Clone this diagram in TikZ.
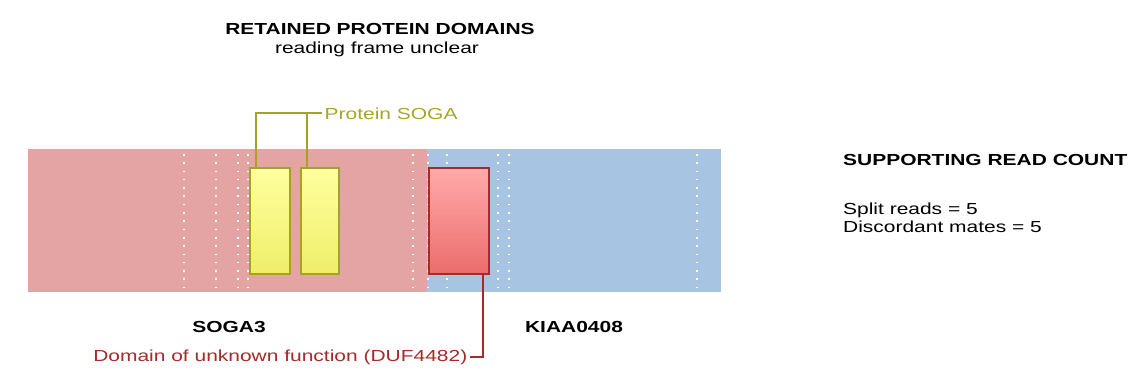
\documentclass[tikz,border=0pt]{standalone}
\usepackage{fontspec}
\setmainfont{Liberation Sans}[FakeStretch=1.31]
\usetikzlibrary{positioning,calc}

\definecolor{sogabar}{HTML}{E4A4A4}
\definecolor{kiaabar}{HTML}{A8C4E3}
\definecolor{olivetext}{HTML}{A6A62B}
\definecolor{oliveline}{HTML}{A3A325}
\definecolor{dufred}{HTML}{A52A2A}
\definecolor{yeltop}{HTML}{FFFF9E}
\definecolor{yelbot}{HTML}{EEEE6A}
\definecolor{redtop}{HTML}{FFAAAA}
\definecolor{redbot}{HTML}{EC6C6C}

\begin{document}
\begin{tikzpicture}[x=1pt, y=-1pt,
  txt/.style={font=\fontsize{16}{18}\selectfont, inner sep=0pt},
  hdr/.style={txt, font=\fontsize{16}{19}\selectfont\bfseries},
  genebar/.style={anchor=north west, inner sep=0pt, outer sep=0pt, minimum height=143pt},
  exonline/.style={white, line width=1.6pt, dash pattern=on 1.6pt off 6.7pt},
  yellowdom/.style={anchor=north west, inner sep=0pt, draw=oliveline, line width=2pt, minimum height=106pt,
    top color=yeltop, middle color=yeltop!85!yelbot, bottom color=yelbot},
  reddom/.style={anchor=north west, inner sep=0pt, draw=dufred, line width=2pt, minimum height=106pt,
    top color=redtop, middle color=redtop!80!redbot, bottom color=redbot},
  sogaline/.style={draw=oliveline, line width=2pt},
  dufline/.style={draw=dufred, line width=2pt}
]
\useasboundingbox (0,0) rectangle (1144,382);

% gene bars
\node[genebar, fill=sogabar, minimum width=399pt] (soga3) at (28,149) {};
\node[genebar, fill=kiaabar, minimum width=294pt] (kiaa0408) at (427,149) {};

% exon boundaries
\foreach \x in {184,216,238,248,413,428,447,498,509,697}
  \draw[exonline] (\x,154) -- (\x,291);

% retained domains
\node[yellowdom, minimum width=40pt] (soga1) at (249,167) {};
\node[yellowdom, minimum width=38pt] (soga2) at (300,167) {};
\node[reddom, minimum width=60pt] (duf) at (428,167) {};

% labels
\node[hdr, anchor=base] (title) at (380,35) {RETAINED PROTEIN DOMAINS};
\node[txt, anchor=base] (subtitle) at (377,54) {reading frame unclear};
\node[txt, text=olivetext, anchor=west, inner xsep=2.5pt] (sogalabel) at (322,113.5) {Protein SOGA};
\node[txt, text=dufred, anchor=east, inner xsep=2.5pt] (duflabel) at (470,357) {Domain of unknown function (DUF4482)};
\node[hdr, anchor=base] (soganame) at (229,332.5) {SOGA3};
\node[hdr, anchor=base] (kiaaname) at (574,332.5) {KIAA0408};
\node[hdr, anchor=base west] (readhdr) at (843,165.7) {SUPPORTING READ COUNT};
\node[txt, anchor=base west] (splitreads) at (843,215) {Split reads = 5};
\node[txt, anchor=base west] (mates) at (843,232.5) {Discordant mates = 5};

% connectors
\draw[sogaline] ($(soga1.north west)+(7,0)$) |- (sogalabel.west);
\draw[sogaline] ($(soga2.north west)+(7,0)$) coordinate (s2top) -- (s2top |- sogalabel.west);
\draw[dufline] ($(duf.south east)+(-7.5,0)$) |- (duflabel.east);

\end{tikzpicture}
\end{document}
